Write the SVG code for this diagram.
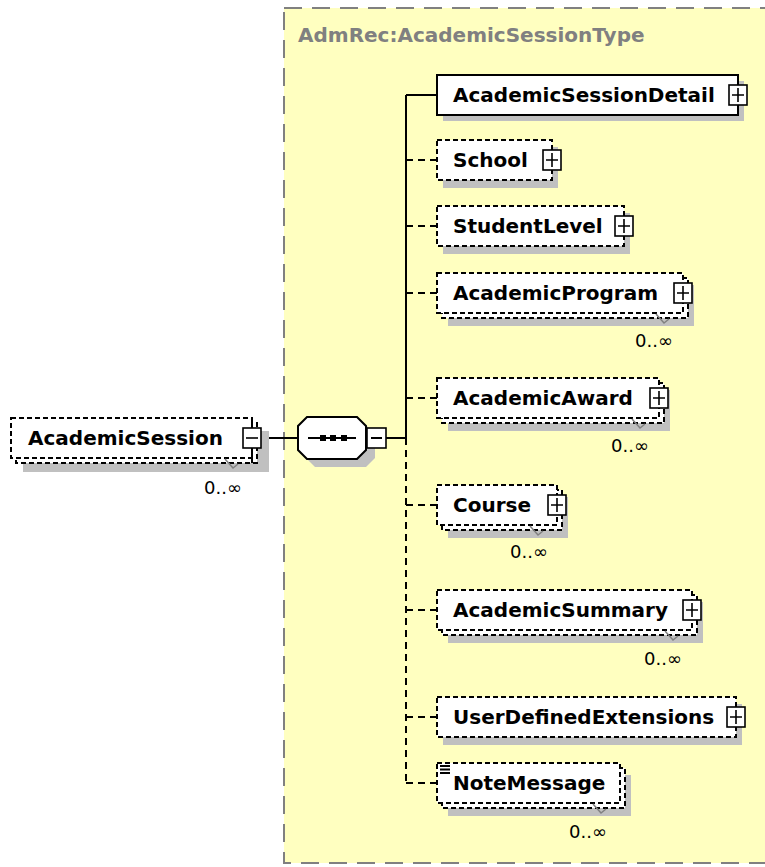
<svg xmlns="http://www.w3.org/2000/svg" xmlns:xlink="http://www.w3.org/1999/xlink" width="765" height="867" viewBox="0 0 765 867">
<style>
.sh{fill:#c0c0c0}
.bx{fill:#fff;stroke:#000;stroke-width:2;stroke-dasharray:5 3}
.bs{fill:#fff;stroke:#000;stroke-width:2}
.lbl{font-family:"DejaVu Sans",Verdana,sans-serif;font-weight:bold;font-size:20px;fill:#000}
.card{font-family:"DejaVu Sans",Verdana,sans-serif;font-size:18px;fill:#000;text-anchor:end}
.cn{stroke:#000;stroke-width:2;fill:none}
.cd{stroke-dasharray:7 5}
.nt{stroke:#808080;stroke-width:1.5;fill:none}
</style>
<defs>
<symbol id="plus" overflow="visible">
<rect x="-9" y="-10" width="18" height="20" fill="#fff" stroke="#000" stroke-width="1.6"/>
<path d="M-6 0H6M0 -7V7" stroke="#000" stroke-width="1.6"/>
</symbol>
<symbol id="minus" overflow="visible">
<rect x="-9" y="-10" width="18" height="20" fill="#fff" stroke="#000" stroke-width="1.6"/>
<path d="M-6 0H6" stroke="#000" stroke-width="1.6"/>
</symbol>
</defs>
<rect width="765" height="867" fill="#fff"/>
<g id="complexType">
<rect x="284" y="8" width="500" height="855" fill="#ffffc0" stroke="#808080" stroke-width="2" stroke-dasharray="18 10"/>
<text x="298" y="42" style="font-family:'DejaVu Sans',Verdana,sans-serif;font-weight:bold;font-size:20px;fill:#808080">AdmRec:AcademicSessionType</text>
</g>
<g id="connectors">
<path class="cn" d="M261 438H298"/>
<path class="cn" d="M386 438H406M406 95V438M406 95H437"/>
<path class="cn cd" d="M406 438V783M406 160H437M406 226H437M406 293H437M406 398H437M406 505H437M406 610H437M406 717H437M406 783H437"/>
</g>
<g id="AcademicSession">
<rect class="sh" x="23" y="431" width="246" height="41"/>
<rect class="bx" x="16" y="423" width="241" height="40"/>
<rect class="bx" x="11" y="418" width="241" height="40"/>
<text class="lbl" x="28" y="445">AcademicSession</text>
<path class="cn" d="M252 418V428M252 448V463"/>
<use xlink:href="#minus" x="252" y="438"/>
<path class="nt" d="M225 459L233 468L238 464"/>
<text class="card" x="242" y="494">0..∞</text>
</g>
<g id="sequence">
<polygon class="sh" points="315,425 366,425 375,434 375,458 366,467 315,467 306,458 306,434"/>
<polygon points="307,417 357,417 366,426 366,450 357,459 307,459 298,450 298,426" fill="#fff" stroke="#000" stroke-width="2"/>
<path class="cn" d="M308 438H356"/>
<rect x="320" y="435" width="6" height="6"/>
<rect x="330" y="435" width="6" height="6"/>
<rect x="341" y="435" width="6" height="6"/>
<rect x="367" y="428" width="19" height="20" fill="#fff" stroke="#000" stroke-width="1.6"/>
<path class="cn" d="M371 438H382"/>
</g>
<g id="AcademicSessionDetail">
<rect class="sh" x="443" y="81" width="301" height="40"/>
<rect class="bs" x="437" y="75" width="301" height="40"/>
<text class="lbl" x="453" y="102">AcademicSessionDetail</text>
<use xlink:href="#plus" x="738" y="95"/>
</g>
<g id="School">
<rect class="sh" x="443" y="147" width="115" height="41"/>
<rect class="bx" x="437" y="140" width="115" height="40"/>
<text class="lbl" x="453" y="167">School</text>
<use xlink:href="#plus" x="552" y="160"/>
</g>
<g id="StudentLevel">
<rect class="sh" x="443" y="213" width="187" height="41"/>
<rect class="bx" x="437" y="206" width="187" height="40"/>
<text class="lbl" x="453" y="233">StudentLevel</text>
<use xlink:href="#plus" x="624" y="226"/>
</g>
<g id="AcademicProgram">
<rect class="sh" x="448" y="285" width="246" height="41"/>
<rect class="bx" x="442" y="278" width="246" height="40"/>
<rect class="bx" x="437" y="273" width="246" height="40"/>
<text class="lbl" x="453" y="300">AcademicProgram</text>
<use xlink:href="#plus" x="683" y="293"/>
<path class="nt" d="M656 314L664 323L669 319"/>
<text class="card" x="673" y="347">0..∞</text>
</g>
<g id="AcademicAward">
<rect class="sh" x="448" y="390" width="222" height="41"/>
<rect class="bx" x="442" y="383" width="222" height="40"/>
<rect class="bx" x="437" y="378" width="222" height="40"/>
<text class="lbl" x="453" y="405">AcademicAward</text>
<use xlink:href="#plus" x="659" y="398"/>
<path class="nt" d="M632 419L640 428L645 424"/>
<text class="card" x="649" y="452">0..∞</text>
</g>
<g id="Course">
<rect class="sh" x="448" y="497" width="120" height="41"/>
<rect class="bx" x="442" y="490" width="120" height="40"/>
<rect class="bx" x="437" y="485" width="120" height="40"/>
<text class="lbl" x="453" y="512">Course</text>
<use xlink:href="#plus" x="557" y="505"/>
<path class="nt" d="M530 526L538 535L543 531"/>
<text class="card" x="548" y="558">0..∞</text>
</g>
<g id="AcademicSummary">
<rect class="sh" x="448" y="602" width="255" height="41"/>
<rect class="bx" x="442" y="595" width="255" height="40"/>
<rect class="bx" x="437" y="590" width="255" height="40"/>
<text class="lbl" x="453" y="617">AcademicSummary</text>
<use xlink:href="#plus" x="692" y="610"/>
<path class="nt" d="M665 631L673 640L678 636"/>
<text class="card" x="682" y="665">0..∞</text>
</g>
<g id="UserDefinedExtensions">
<rect class="sh" x="443" y="704" width="299" height="41"/>
<rect class="bx" x="437" y="697" width="299" height="40"/>
<text class="lbl" x="453" y="724">UserDefinedExtensions</text>
<use xlink:href="#plus" x="736" y="717"/>
</g>
<g id="NoteMessage">
<rect class="sh" x="448" y="775" width="183" height="41"/>
<rect class="bx" x="442" y="768" width="183" height="40"/>
<rect class="bx" x="437" y="763" width="183" height="40"/>
<path class="cn" d="M440 766H450M440 769.5H450M440 773H450"/>
<text class="lbl" x="453" y="790">NoteMessage</text>
<path class="nt" d="M593 804L601 813L606 809"/>
<text class="card" x="607" y="838">0..∞</text>
</g>
</svg>
